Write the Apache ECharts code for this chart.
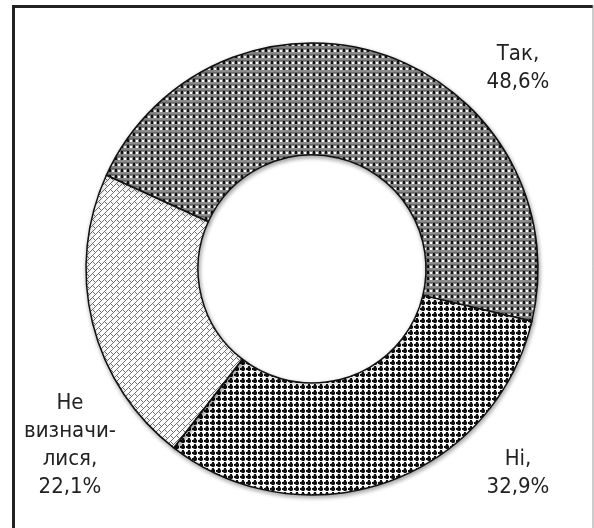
<!DOCTYPE html>
<html>
<head>
<meta charset="utf-8">
<script src="https://cdn.jsdelivr.net/npm/echarts@6/dist/echarts.min.js"></script>
<style>
  html, body { margin: 0; padding: 0; background: #fff; }
  #chart { width: 594px; height: 528px; }
</style>
</head>
<body>
<div id="chart"></div>
<script>
  // дані
  const categories = ['Так', 'Ні', 'Не\nвизначи-\nлися'];
  const values = [48.6, 32.9, 22.1];

  // де стоять підписи (центр блоку тексту)
  const labelPos = [[518, 68], [518, 473], [70, 445]];

  // візерунки як у Excel
  function makeTile(size, bg, draw) {
    const c = document.createElement('canvas');
    c.width = size; c.height = size;
    const ctx = c.getContext('2d');
    ctx.fillStyle = bg;
    ctx.fillRect(0, 0, size, size);
    draw(ctx);
    return c;
  }

  // Так: клітинка (чорні/білі квадрати на сірому)
  const plaid = makeTile(6, '#8c8c8c', ctx => {
    ctx.fillStyle = '#6a6a6a';
    ctx.fillRect(0, 0, 6, 1);
    ctx.fillStyle = '#111';
    ctx.fillRect(1, 1, 2, 3);
    ctx.fillStyle = '#fff';
    ctx.fillRect(4, 2, 2, 2);
  });

  // Ні: чорні кружечки
  const dots = makeTile(6, '#fff', ctx => {
    ctx.fillStyle = '#888';
    ctx.fillRect(1, 1, 4, 4);
    ctx.fillStyle = '#111';
    ctx.fillRect(2, 0, 2, 1);
    ctx.fillRect(2, 1, 2, 1);
    ctx.fillRect(1, 2, 4, 2);
    ctx.fillRect(0, 2, 1, 2);
    ctx.fillRect(2, 4, 2, 1);
  });

  // Не визначилися: дрібна діагональна цегла
  const brick = makeTile(6, '#fff', ctx => {
    ctx.fillStyle = '#707070';
    for (let x = 0; x < 6; x++) ctx.fillRect(x, 5 - x, 1, 1);
    ctx.fillRect(3, 4, 1, 1);
    ctx.fillRect(4, 5, 1, 1);
  });

  const patterns = [plaid, dots, brick];

  const chart = echarts.init(document.getElementById('chart'));

  const option = {
    backgroundColor: '#fff',
    animation: false,
    graphic: [
      { type: 'line', shape: { x1: 13.5, y1: 5, x2: 13.5, y2: 528 }, style: { stroke: '#222', lineWidth: 3 } },
      { type: 'line', shape: { x1: 12, y1: 6.5, x2: 593, y2: 6.5 }, style: { stroke: '#222', lineWidth: 3 } },
      { type: 'line', shape: { x1: 593, y1: 5, x2: 593, y2: 528 }, style: { stroke: '#999', lineWidth: 1 } }
    ],
    series: [{
      type: 'pie',
      center: [312, 269],
      radius: [114, 226],
      startAngle: 155.5,
      clockwise: true,
      avoidLabelOverlap: false,
      emphasis: { disabled: true },
      itemStyle: {
        borderColor: '#111',
        borderWidth: 1.5,
        shadowColor: 'rgba(0,0,0,0.35)',
        shadowBlur: 4,
        shadowOffsetX: 1,
        shadowOffsetY: 2
      },
      label: {
        show: true,
        position: 'outside',
        fontFamily: '"DejaVu Sans Condensed", "DejaVu Sans", sans-serif',
        fontSize: 22,
        lineHeight: 28,
        color: '#222',
        align: 'center',
        formatter: p => p.name + ',\n' + p.value.toFixed(1).replace('.', ',') + '%'
      },
      labelLine: { show: false },
      labelLayout: p => ({
        x: labelPos[p.dataIndex][0],
        y: labelPos[p.dataIndex][1],
        align: 'center',
        verticalAlign: 'middle'
      }),
      data: categories.map((name, i) => ({
        name: name,
        value: values[i],
        itemStyle: { color: { image: patterns[i], repeat: 'repeat' } }
      }))
    }]
  };

  chart.setOption(option);
</script>
</body>
</html>
